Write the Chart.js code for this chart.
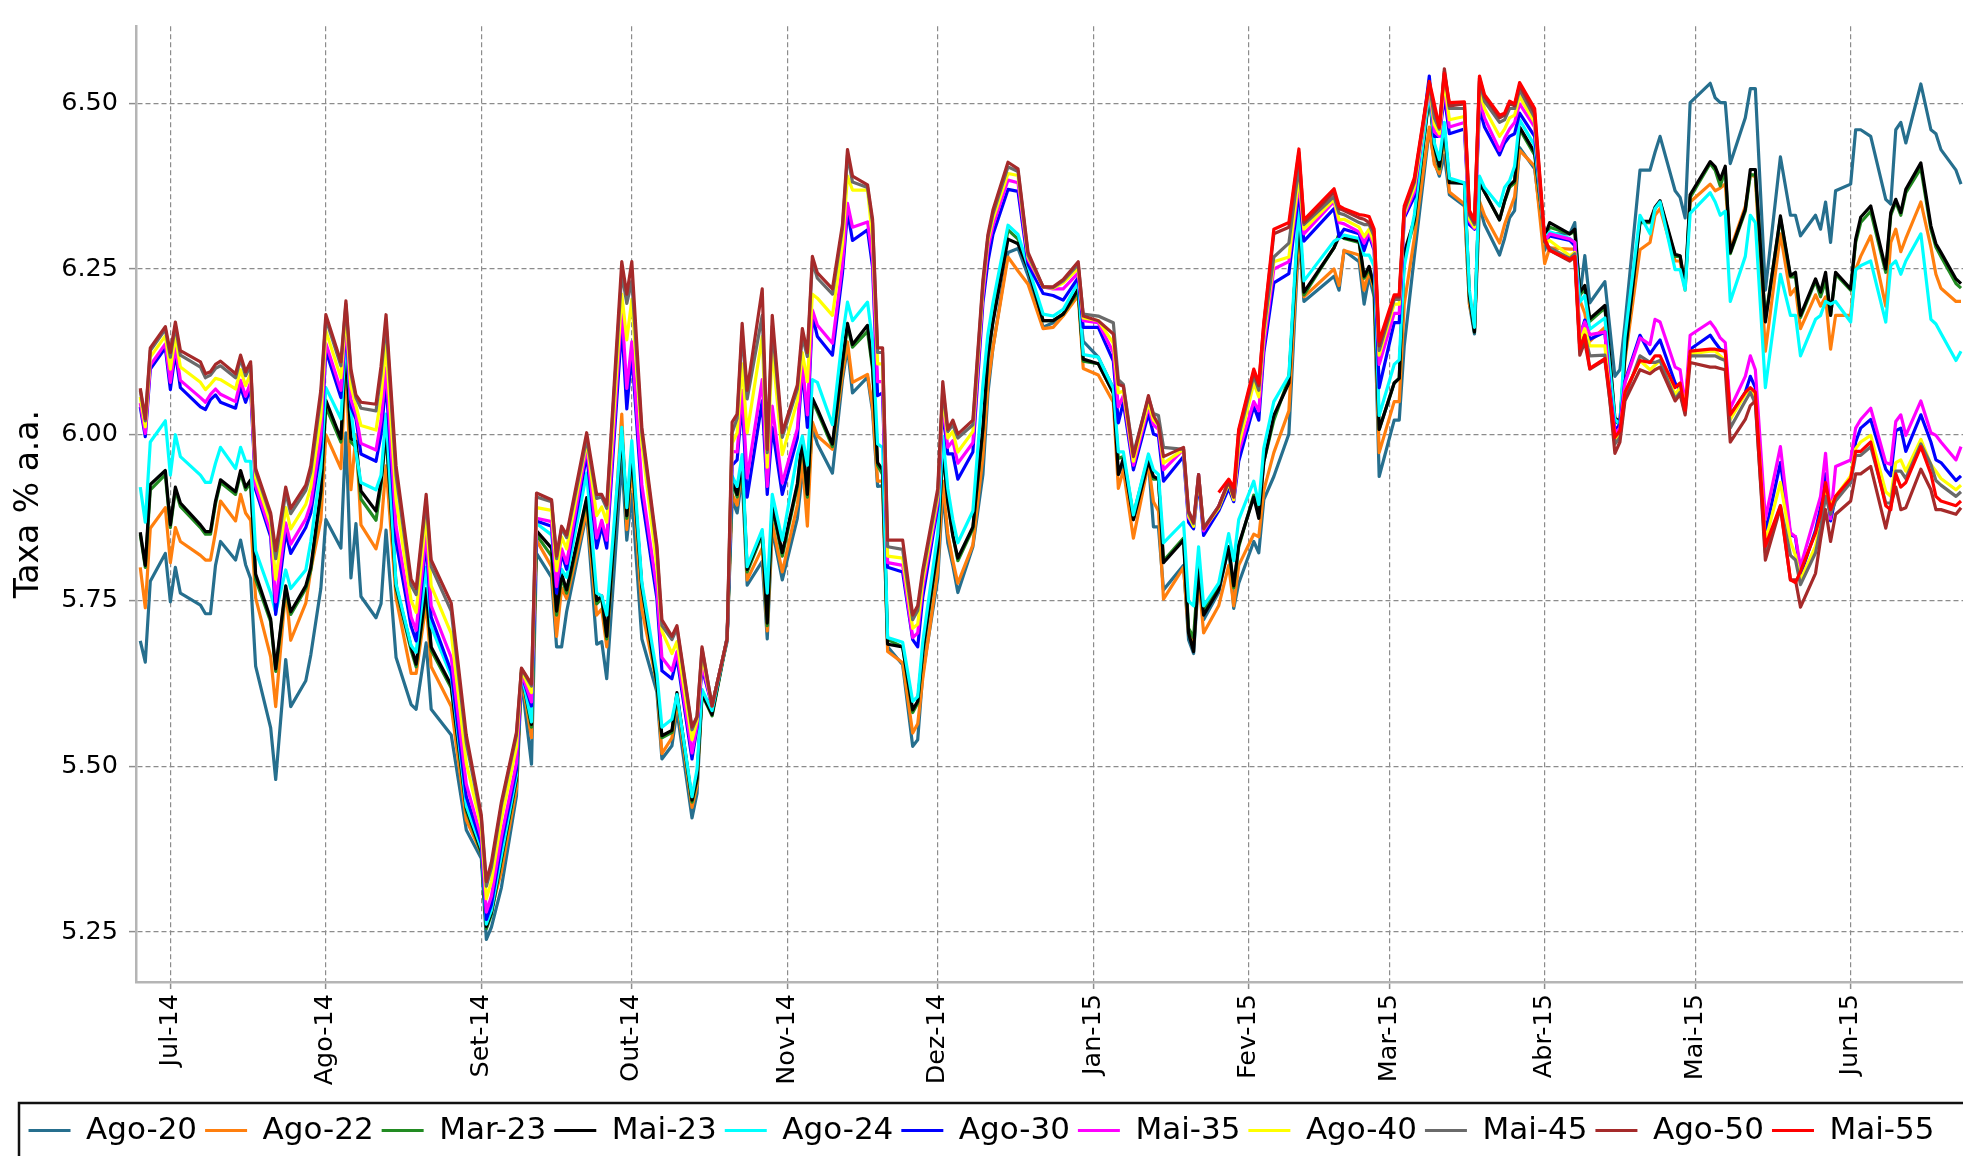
<!DOCTYPE html>
<html>
<head>
<meta charset="utf-8">
<script src="https://cdn.jsdelivr.net/npm/chart.js@4.4.1/dist/chart.umd.min.js"></script>
<style>
  html, body { margin: 0; padding: 0; background: #fff; overflow: hidden; }
  canvas { display: block; }
</style>
</head>
<body>
<canvas id="taxas" width="1963" height="1156"></canvas>
<script>
// trading days
const dates = [
  '2014-06-25','2014-06-26','2014-06-27','2014-06-30','2014-07-01','2014-07-02','2014-07-03','2014-07-07','2014-07-08','2014-07-09',
  '2014-07-10','2014-07-11','2014-07-14','2014-07-15','2014-07-16','2014-07-17','2014-07-18','2014-07-21','2014-07-22','2014-07-24',
  '2014-07-25','2014-07-28','2014-07-29','2014-07-31','2014-08-01','2014-08-04','2014-08-05','2014-08-06','2014-08-07','2014-08-08',
  '2014-08-11','2014-08-12','2014-08-13','2014-08-15','2014-08-18','2014-08-19','2014-08-21','2014-08-22','2014-08-26','2014-08-29',
  '2014-09-01','2014-09-02','2014-09-03',
  '2014-09-05','2014-09-08','2014-09-09','2014-09-11','2014-09-12','2014-09-15','2014-09-16','2014-09-17','2014-09-18','2014-09-22',
  '2014-09-24','2014-09-25','2014-09-26','2014-09-29','2014-09-30','2014-10-01','2014-10-03','2014-10-06','2014-10-07','2014-10-09',
  '2014-10-10','2014-10-13','2014-10-14','2014-10-15','2014-10-17','2014-10-20','2014-10-21','2014-10-22','2014-10-23','2014-10-24',
  '2014-10-27','2014-10-28','2014-10-29','2014-10-31','2014-11-03','2014-11-04','2014-11-05','2014-11-06','2014-11-07','2014-11-10',
  '2014-11-12','2014-11-13','2014-11-14','2014-11-17','2014-11-18','2014-11-19',
  '2014-11-20','2014-11-21','2014-11-24','2014-11-26','2014-11-27','2014-11-28','2014-12-01','2014-12-02','2014-12-03','2014-12-04',
  '2014-12-05','2014-12-08','2014-12-10','2014-12-11','2014-12-12','2014-12-15','2014-12-17','2014-12-19','2014-12-22','2014-12-24',
  '2014-12-26','2014-12-29','2014-12-30','2015-01-02','2015-01-05','2015-01-06','2015-01-07','2015-01-09','2015-01-12','2015-01-13',
  '2015-01-14','2015-01-15','2015-01-19','2015-01-20','2015-01-21','2015-01-22','2015-01-23','2015-01-26','2015-01-28','2015-01-29',
  '2015-01-30',
  '2015-02-02','2015-02-03','2015-02-04','2015-02-06','2015-02-09','2015-02-11','2015-02-12','2015-02-18','2015-02-19','2015-02-20',
  '2015-02-23','2015-02-24','2015-02-25','2015-02-26','2015-02-27','2015-03-02','2015-03-03','2015-03-04','2015-03-06','2015-03-09',
  '2015-03-10','2015-03-11','2015-03-12','2015-03-13','2015-03-16','2015-03-17','2015-03-18','2015-03-19','2015-03-20','2015-03-23',
  '2015-03-24','2015-03-25','2015-03-26','2015-03-27','2015-03-30','2015-04-01','2015-04-02','2015-04-06','2015-04-07','2015-04-08',
  '2015-04-09','2015-04-10','2015-04-13',
  '2015-04-14','2015-04-15','2015-04-16','2015-04-17','2015-04-20','2015-04-22','2015-04-23','2015-04-24','2015-04-27','2015-04-28',
  '2015-04-29','2015-04-30','2015-05-04','2015-05-05','2015-05-06','2015-05-07','2015-05-08','2015-05-11','2015-05-12','2015-05-13',
  '2015-05-15','2015-05-18','2015-05-20','2015-05-21','2015-05-22','2015-05-25','2015-05-26','2015-05-27','2015-05-28','2015-05-29',
  '2015-06-01','2015-06-02','2015-06-03','2015-06-05','2015-06-08','2015-06-09','2015-06-10','2015-06-11','2015-06-12','2015-06-15',
  '2015-06-17','2015-06-18','2015-06-19','2015-06-22','2015-06-23'
];

const ago20 = [
  5.689,5.657,5.779,5.821,5.748,5.800,5.761,5.743,5.730,5.730,5.803,5.839,5.811,5.841,5.804,5.783,5.651,5.558,5.480,5.661,5.590,5.629,5.668,5.768,5.872,5.829,6.003,5.784,5.866,5.756,5.724,5.745,5.856,5.664,5.593,5.586,5.686,5.586,5.547,5.404,5.361,5.239,5.257,
  5.317,5.455,5.632,5.503,5.821,5.785,5.680,5.680,5.733,5.882,5.684,5.688,5.632,5.962,5.841,5.910,5.692,5.612,5.511,5.531,5.584,5.422,5.459,5.608,5.592,5.688,5.902,5.882,5.938,5.773,5.809,5.692,5.857,5.781,5.874,5.942,5.906,6.011,5.986,5.942,6.083,6.132,6.063,6.087,6.035,5.922,
  5.923,5.680,5.653,5.530,5.540,5.639,5.783,5.913,5.837,5.803,5.762,5.831,5.940,6.063,6.131,6.275,6.281,6.240,6.162,6.169,6.182,6.210,6.141,6.117,6.070,5.940,5.954,5.872,5.960,5.861,5.861,5.766,5.803,5.691,5.670,5.783,5.721,5.762,5.831,5.738,5.776,
  5.839,5.822,5.902,5.937,6.001,6.303,6.201,6.239,6.218,6.278,6.261,6.197,6.239,6.208,5.937,6.022,6.022,6.134,6.268,6.461,6.412,6.390,6.422,6.362,6.345,6.197,6.152,6.345,6.317,6.271,6.296,6.327,6.338,6.433,6.401,6.278,6.303,6.303,6.320,6.208,6.270,6.199,6.231,
  6.160,6.088,6.098,6.167,6.399,6.399,6.426,6.450,6.368,6.358,6.327,6.501,6.530,6.508,6.501,6.501,6.409,6.478,6.522,6.522,6.218,6.419,6.331,6.331,6.300,6.331,6.310,6.351,6.290,6.368,6.378,6.460,6.460,6.450,6.355,6.348,6.460,6.471,6.440,6.529,6.460,6.454,6.430,6.399,6.378
];
const ago22 = [
  5.800,5.739,5.859,5.890,5.807,5.860,5.839,5.818,5.811,5.811,5.853,5.900,5.870,5.910,5.882,5.871,5.754,5.665,5.590,5.768,5.690,5.746,5.796,5.871,6.000,5.949,6.113,5.917,6.000,5.864,5.828,5.860,5.953,5.754,5.640,5.640,5.746,5.650,5.590,5.419,5.369,5.262,5.283,
  5.342,5.467,5.636,5.543,5.841,5.801,5.696,5.769,5.753,5.886,5.728,5.737,5.680,6.031,5.857,5.954,5.737,5.624,5.519,5.543,5.599,5.438,5.471,5.612,5.584,5.692,5.910,5.894,5.954,5.781,5.829,5.704,5.866,5.793,5.894,5.962,5.862,6.019,5.998,5.978,6.091,6.140,6.079,6.091,6.043,5.930,
  5.930,5.673,5.656,5.550,5.564,5.632,5.796,5.930,5.851,5.810,5.776,5.834,5.967,6.076,6.131,6.268,6.247,6.227,6.160,6.162,6.179,6.210,6.100,6.090,6.049,5.919,5.947,5.844,5.957,5.899,5.885,5.752,5.800,5.701,5.684,5.786,5.701,5.742,5.803,5.742,5.803,
  5.850,5.846,5.916,5.973,6.036,6.310,6.208,6.250,6.225,6.278,6.271,6.218,6.247,6.218,5.973,6.050,6.050,6.197,6.296,6.464,6.408,6.394,6.450,6.366,6.348,6.197,6.162,6.352,6.331,6.289,6.317,6.338,6.359,6.429,6.405,6.258,6.282,6.280,6.280,6.203,6.183,6.141,6.162,
  6.071,5.999,6.010,6.112,6.279,6.290,6.331,6.341,6.262,6.262,6.218,6.351,6.378,6.368,6.372,6.378,6.279,6.344,6.392,6.389,6.126,6.303,6.211,6.221,6.160,6.211,6.194,6.208,6.129,6.180,6.180,6.249,6.269,6.300,6.194,6.290,6.310,6.276,6.296,6.351,6.283,6.242,6.221,6.201,6.201
];
const mar23 = [
  5.850,5.800,5.917,5.940,5.860,5.917,5.892,5.860,5.850,5.850,5.896,5.928,5.910,5.942,5.917,5.928,5.782,5.718,5.643,5.768,5.729,5.768,5.796,5.910,6.042,5.989,6.131,5.989,5.981,5.903,5.871,5.924,6.003,5.768,5.675,5.650,5.764,5.675,5.618,5.433,5.369,5.255,5.276,
  5.358,5.479,5.640,5.559,5.849,5.817,5.728,5.785,5.761,5.902,5.745,5.753,5.692,6.003,5.874,5.970,5.769,5.624,5.543,5.551,5.608,5.446,5.479,5.608,5.576,5.692,5.930,5.906,5.954,5.793,5.849,5.712,5.890,5.817,5.922,5.991,5.906,6.051,6.035,5.982,6.107,6.164,6.132,6.156,6.099,5.954,
  5.940,5.691,5.680,5.581,5.595,5.670,5.827,5.981,5.899,5.848,5.810,5.858,6.008,6.114,6.172,6.309,6.295,6.251,6.172,6.172,6.182,6.216,6.111,6.107,6.063,5.964,5.967,5.879,5.967,5.933,5.933,5.810,5.844,5.708,5.694,5.800,5.735,5.769,5.831,5.769,5.831,
  5.909,5.881,5.959,6.022,6.085,6.331,6.211,6.282,6.303,6.296,6.290,6.236,6.250,6.225,6.008,6.078,6.085,6.268,6.320,6.512,6.436,6.401,6.457,6.383,6.380,6.208,6.155,6.380,6.366,6.324,6.352,6.373,6.380,6.461,6.422,6.296,6.313,6.303,6.306,6.211,6.219,6.171,6.191,
  6.112,6.020,6.016,6.119,6.320,6.320,6.341,6.351,6.269,6.269,6.221,6.358,6.409,6.399,6.375,6.399,6.273,6.337,6.392,6.392,6.174,6.327,6.238,6.238,6.177,6.232,6.208,6.232,6.180,6.242,6.218,6.290,6.320,6.337,6.245,6.331,6.351,6.331,6.365,6.402,6.310,6.283,6.269,6.228,6.221
];
const mai23 = [
  5.853,5.803,5.925,5.946,5.864,5.921,5.897,5.864,5.854,5.854,5.900,5.932,5.914,5.946,5.921,5.932,5.790,5.722,5.647,5.772,5.733,5.772,5.800,5.915,6.052,5.994,6.135,5.994,5.990,5.915,5.885,5.930,6.008,5.772,5.680,5.654,5.768,5.680,5.622,5.437,5.372,5.258,5.280,
  5.362,5.483,5.642,5.563,5.855,5.829,5.734,5.790,5.766,5.905,5.750,5.757,5.696,6.006,5.878,5.973,5.772,5.627,5.546,5.554,5.611,5.449,5.482,5.610,5.578,5.694,5.933,5.910,5.958,5.797,5.853,5.716,5.894,5.822,5.926,5.994,5.910,6.055,6.039,5.986,6.111,6.168,6.136,6.165,6.104,5.958,
  5.947,5.684,5.680,5.585,5.598,5.673,5.831,5.977,5.899,5.848,5.814,5.861,6.010,6.118,6.170,6.295,6.288,6.251,6.172,6.172,6.182,6.220,6.114,6.107,6.063,5.940,5.964,5.872,5.960,5.937,5.933,5.807,5.841,5.701,5.673,5.796,5.728,5.766,5.831,5.772,5.834,
  5.906,5.874,5.959,6.029,6.078,6.334,6.215,6.282,6.299,6.297,6.292,6.239,6.254,6.225,6.008,6.078,6.085,6.275,6.324,6.515,6.436,6.405,6.461,6.380,6.379,6.208,6.155,6.380,6.366,6.324,6.352,6.376,6.383,6.464,6.426,6.299,6.320,6.303,6.310,6.215,6.225,6.175,6.195,
  6.115,6.025,6.020,6.120,6.322,6.322,6.343,6.353,6.272,6.270,6.225,6.362,6.412,6.404,6.385,6.405,6.275,6.340,6.400,6.400,6.170,6.330,6.240,6.245,6.180,6.235,6.215,6.245,6.180,6.245,6.220,6.295,6.328,6.345,6.250,6.335,6.355,6.335,6.370,6.410,6.315,6.288,6.275,6.235,6.228
];
const ago24 = [
  5.921,5.868,5.989,6.021,5.939,6.000,5.967,5.939,5.928,5.928,5.957,5.981,5.949,5.981,5.960,5.960,5.825,5.761,5.732,5.796,5.768,5.796,5.839,5.949,6.071,6.024,6.149,6.038,5.974,5.928,5.917,5.939,6.031,5.775,5.682,5.672,5.800,5.711,5.636,5.440,5.376,5.262,5.283,
  5.366,5.487,5.641,5.567,5.866,5.849,5.777,5.797,5.785,5.942,5.761,5.757,5.728,6.011,5.890,5.991,5.777,5.640,5.559,5.571,5.608,5.454,5.495,5.616,5.584,5.692,5.938,5.922,5.970,5.801,5.857,5.761,5.910,5.841,5.970,5.998,5.954,6.083,6.079,6.015,6.148,6.200,6.172,6.200,6.140,5.986,
  5.981,5.694,5.687,5.598,5.605,5.687,5.851,5.998,5.919,5.872,5.837,5.885,6.076,6.152,6.199,6.316,6.302,6.254,6.182,6.179,6.189,6.230,6.121,6.117,6.070,5.974,5.974,5.879,5.971,5.947,5.940,5.837,5.868,5.749,5.742,5.831,5.742,5.776,5.851,5.810,5.872,
  5.930,5.895,5.980,6.050,6.089,6.348,6.232,6.292,6.296,6.301,6.296,6.271,6.271,6.254,6.029,6.106,6.113,6.254,6.331,6.520,6.440,6.415,6.471,6.387,6.380,6.218,6.162,6.390,6.373,6.345,6.373,6.383,6.405,6.475,6.436,6.296,6.306,6.296,6.290,6.200,6.210,6.159,6.176,
  6.098,6.023,6.016,6.146,6.331,6.303,6.341,6.351,6.249,6.249,6.218,6.334,6.365,6.351,6.331,6.337,6.201,6.269,6.331,6.320,6.071,6.242,6.180,6.180,6.119,6.174,6.180,6.201,6.197,6.201,6.170,6.249,6.255,6.262,6.170,6.255,6.262,6.242,6.262,6.303,6.174,6.167,6.153,6.112,6.126
];
const ago30 = [
  6.042,5.997,6.099,6.131,6.068,6.124,6.071,6.042,6.038,6.053,6.060,6.049,6.040,6.072,6.049,6.071,5.917,5.846,5.729,5.853,5.821,5.860,5.882,5.981,6.127,6.056,6.163,6.042,6.024,5.971,5.960,6.000,6.081,5.839,5.711,5.689,5.839,5.725,5.643,5.454,5.383,5.269,5.291,
  5.382,5.495,5.640,5.591,5.870,5.862,5.761,5.821,5.797,5.970,5.829,5.862,5.829,6.164,6.039,6.124,5.906,5.753,5.644,5.632,5.664,5.511,5.559,5.648,5.591,5.692,5.954,5.962,6.051,5.906,6.051,5.910,6.011,5.910,5.995,6.099,6.011,6.180,6.148,6.120,6.244,6.337,6.293,6.309,6.253,6.059,
  6.063,5.800,5.793,5.691,5.680,5.755,5.892,6.039,5.971,5.971,5.933,5.974,6.199,6.261,6.302,6.370,6.367,6.257,6.213,6.210,6.203,6.237,6.162,6.162,6.111,6.018,6.049,5.947,6.032,6.001,5.998,5.930,5.967,5.868,5.858,5.930,5.848,5.885,5.919,5.899,5.960,
  6.043,6.022,6.124,6.229,6.243,6.366,6.292,6.341,6.299,6.310,6.303,6.278,6.301,6.278,6.071,6.169,6.169,6.327,6.359,6.541,6.450,6.450,6.510,6.454,6.461,6.317,6.310,6.492,6.464,6.422,6.440,6.450,6.454,6.485,6.450,6.296,6.300,6.293,6.285,6.148,6.173,6.144,6.155,
  6.068,6.006,6.016,6.081,6.150,6.122,6.133,6.143,6.078,6.068,6.044,6.129,6.150,6.139,6.129,6.126,6.030,6.064,6.088,6.071,5.852,5.958,5.849,5.846,5.788,5.856,5.890,5.941,5.870,5.907,5.928,5.989,6.010,6.023,5.948,5.938,6.006,6.010,5.975,6.030,5.989,5.962,5.958,5.931,5.938
];
const mai35 = [
  6.048,6.002,6.105,6.137,6.079,6.133,6.082,6.056,6.049,6.061,6.069,6.061,6.050,6.082,6.058,6.079,5.923,5.853,5.748,5.867,5.835,5.873,5.896,5.998,6.138,6.067,6.171,6.053,6.031,5.987,5.977,6.021,6.101,5.862,5.725,5.705,5.853,5.742,5.664,5.473,5.392,5.280,5.304,
  5.394,5.505,5.641,5.597,5.874,5.869,5.771,5.828,5.806,5.982,5.844,5.871,5.841,6.192,6.070,6.140,5.925,5.767,5.664,5.644,5.673,5.520,5.562,5.654,5.591,5.692,5.975,5.974,6.067,5.935,6.083,5.922,6.043,5.927,6.009,6.108,6.030,6.188,6.165,6.138,6.257,6.349,6.313,6.321,6.266,6.080,
  6.080,5.807,5.803,5.694,5.701,5.769,5.899,6.049,5.981,5.991,5.957,5.988,6.210,6.281,6.315,6.384,6.380,6.264,6.223,6.220,6.220,6.244,6.172,6.169,6.124,6.042,6.059,5.954,6.042,6.015,6.008,5.947,5.978,5.875,5.864,5.940,5.855,5.892,5.930,5.902,5.974,
  6.050,6.036,6.134,6.250,6.261,6.380,6.303,6.352,6.320,6.318,6.306,6.289,6.306,6.282,6.106,6.183,6.183,6.331,6.366,6.526,6.457,6.450,6.524,6.464,6.471,6.322,6.311,6.506,6.478,6.429,6.447,6.461,6.471,6.499,6.464,6.292,6.303,6.295,6.290,6.150,6.170,6.151,6.155,
  6.064,6.003,6.010,6.078,6.146,6.136,6.174,6.170,6.102,6.098,6.044,6.150,6.170,6.160,6.146,6.139,6.040,6.088,6.119,6.098,5.873,5.982,5.852,5.846,5.801,5.880,5.907,5.972,5.873,5.952,5.962,6.010,6.023,6.040,5.958,5.955,6.020,6.030,5.999,6.051,6.003,5.999,5.989,5.962,5.982
];
const ago40 = [
  6.057,6.012,6.117,6.149,6.099,6.149,6.102,6.079,6.068,6.076,6.085,6.083,6.069,6.098,6.074,6.092,5.935,5.866,5.782,5.890,5.858,5.895,5.921,6.028,6.157,6.086,6.184,6.073,6.044,6.014,6.007,6.057,6.136,5.902,5.750,5.732,5.878,5.772,5.700,5.505,5.407,5.300,5.326,
  5.420,5.529,5.645,5.611,5.890,5.886,5.795,5.846,5.828,5.990,5.878,5.891,5.868,6.212,6.143,6.204,5.987,5.801,5.704,5.670,5.688,5.540,5.569,5.667,5.591,5.692,5.987,6.003,6.107,6.003,6.148,5.951,6.132,5.970,6.051,6.124,6.080,6.212,6.206,6.180,6.288,6.390,6.369,6.369,6.296,6.107,
  6.107,5.817,5.814,5.708,5.714,5.779,5.906,6.060,5.995,6.005,5.974,6.005,6.220,6.292,6.325,6.394,6.391,6.268,6.223,6.221,6.229,6.251,6.176,6.172,6.138,6.063,6.066,5.960,6.049,6.022,6.015,5.957,5.978,5.878,5.862,5.937,5.858,5.889,5.927,5.902,5.984,
  6.078,6.057,6.148,6.261,6.268,6.390,6.310,6.355,6.324,6.325,6.313,6.299,6.310,6.289,6.120,6.197,6.197,6.334,6.373,6.527,6.468,6.454,6.534,6.475,6.480,6.325,6.313,6.520,6.492,6.450,6.461,6.478,6.482,6.510,6.471,6.289,6.293,6.270,6.275,6.140,6.160,6.134,6.134,
  6.057,5.989,6.003,6.064,6.112,6.098,6.105,6.112,6.061,6.071,6.044,6.122,6.126,6.126,6.119,6.112,6.023,6.061,6.068,6.057,5.839,5.928,5.839,5.818,5.781,5.832,5.866,5.917,5.893,5.907,5.938,5.979,5.989,5.999,5.914,5.907,5.958,5.962,5.945,5.993,5.955,5.945,5.934,5.917,5.924
];
const mai45 = [
  6.067,6.021,6.127,6.159,6.117,6.164,6.120,6.102,6.086,6.090,6.100,6.104,6.086,6.114,6.089,6.105,5.945,5.878,5.813,5.913,5.881,5.916,5.944,6.057,6.175,6.104,6.197,6.092,6.056,6.040,6.036,6.091,6.169,5.939,5.773,5.759,5.901,5.801,5.734,5.536,5.421,5.319,5.347,
  5.441,5.547,5.647,5.621,5.906,5.899,5.813,5.859,5.845,5.994,5.904,5.906,5.889,6.244,6.198,6.232,6.003,5.827,5.712,5.691,5.708,5.555,5.574,5.677,5.591,5.692,6.003,6.025,6.156,6.054,6.180,5.973,6.164,5.996,6.069,6.148,6.118,6.261,6.236,6.212,6.311,6.422,6.381,6.373,6.319,6.124,
  6.124,5.831,5.827,5.721,5.735,5.790,5.913,6.070,6.005,6.015,5.995,6.015,6.227,6.298,6.333,6.404,6.397,6.271,6.223,6.222,6.232,6.257,6.182,6.179,6.169,6.083,6.076,5.971,6.056,6.032,6.029,5.981,5.978,5.882,5.866,5.940,5.860,5.892,5.930,5.906,5.998,
  6.089,6.067,6.158,6.268,6.289,6.405,6.317,6.359,6.334,6.332,6.320,6.317,6.317,6.299,6.127,6.204,6.204,6.338,6.380,6.529,6.478,6.461,6.548,6.492,6.492,6.331,6.317,6.533,6.503,6.471,6.475,6.492,6.492,6.520,6.478,6.290,6.282,6.266,6.273,6.130,6.150,6.119,6.120,
  6.051,5.986,5.996,6.057,6.119,6.109,6.109,6.112,6.054,6.064,6.033,6.119,6.119,6.119,6.115,6.112,6.010,6.051,6.064,6.047,5.822,5.893,5.818,5.811,5.774,5.822,5.859,5.907,5.880,5.900,5.928,5.969,5.969,5.982,5.897,5.897,5.945,5.945,5.934,5.986,5.955,5.931,5.924,5.907,5.914
];
const ago50 = [
  6.070,6.024,6.131,6.163,6.124,6.170,6.127,6.110,6.092,6.095,6.106,6.111,6.092,6.120,6.095,6.110,5.949,5.882,5.825,5.921,5.889,5.924,5.953,6.067,6.181,6.110,6.202,6.099,6.060,6.049,6.046,6.103,6.181,5.953,5.782,5.768,5.910,5.811,5.746,5.547,5.426,5.326,5.355,
  5.446,5.551,5.648,5.624,5.912,5.902,5.817,5.862,5.849,6.003,5.910,5.910,5.894,6.261,6.212,6.261,6.011,5.833,5.721,5.696,5.712,5.559,5.575,5.680,5.591,5.692,6.019,6.031,6.168,6.067,6.220,5.978,6.180,6.003,6.075,6.160,6.124,6.269,6.244,6.220,6.317,6.430,6.390,6.377,6.325,6.131,
  6.131,5.841,5.841,5.728,5.742,5.796,5.919,6.080,6.008,6.022,6.001,6.022,6.233,6.302,6.339,6.411,6.401,6.275,6.223,6.223,6.234,6.261,6.179,6.172,6.152,6.076,6.073,5.967,6.059,6.029,6.015,5.967,5.981,5.885,5.868,5.940,5.858,5.892,5.930,5.906,6.005,
  6.095,6.074,6.166,6.303,6.313,6.426,6.320,6.366,6.341,6.338,6.327,6.325,6.320,6.306,6.134,6.208,6.208,6.341,6.383,6.531,6.492,6.464,6.552,6.496,6.499,6.334,6.320,6.538,6.510,6.478,6.482,6.499,6.496,6.527,6.485,6.292,6.278,6.262,6.268,6.120,6.140,6.099,6.113,
  6.051,5.972,5.989,6.051,6.098,6.092,6.098,6.102,6.051,6.061,6.030,6.109,6.102,6.102,6.100,6.098,5.989,6.023,6.044,6.051,5.811,5.890,5.781,5.781,5.740,5.791,5.842,5.887,5.839,5.880,5.900,5.941,5.941,5.952,5.859,5.893,5.921,5.887,5.890,5.948,5.917,5.887,5.887,5.880,5.890
];
// Mai-55 only trades from this date on
const mai55Start = '2015-01-26';
const mai55 = [
  5.913,5.933,5.920,6.008,
  6.099,6.078,6.169,6.310,6.320,6.431,6.324,6.371,6.345,6.341,6.332,6.331,6.329,6.310,6.141,6.211,6.211,6.345,6.387,6.533,6.499,6.464,6.545,6.501,6.502,6.338,6.324,6.541,6.513,6.482,6.485,6.503,6.499,6.531,6.492,6.296,6.278,6.264,6.269,6.130,6.150,6.100,6.115,
  6.061,5.996,6.006,6.064,6.112,6.109,6.119,6.119,6.071,6.078,6.037,6.126,6.129,6.129,6.127,6.126,6.030,6.064,6.071,6.064,5.832,5.893,5.781,5.777,5.794,5.852,5.880,5.928,5.887,5.907,5.934,5.975,5.975,5.989,5.893,5.887,5.941,5.921,5.928,5.982,5.941,5.907,5.900,5.893,5.900
];

const seriesNames = ['Ago-20','Ago-22','Mar-23','Mai-23','Ago-24','Ago-30','Mai-35','Ago-40','Mai-45','Ago-50','Mai-55'];
const seriesValues = [ago20, ago22, mar23, mai23, ago24, ago30, mai35, ago40, mai45, ago50, mai55];
const seriesColors = ['#266f8e','#ff7f0e','#228b22','#000000','#00ffff','#0000ff','#ff00ff','#ffff00','#6a6a6a','#a52a2a','#ff0000'];

const monthTicks = ['2014-07-01','2014-08-01','2014-09-01','2014-10-01','2014-11-01','2014-12-01',
                    '2015-01-01','2015-02-01','2015-03-01','2015-04-01','2015-05-01','2015-06-01'];
const monthLabels = ['Jul-14','Ago-14','Set-14','Out-14','Nov-14','Dez-14','Jan-15','Fev-15','Mar-15','Abr-15','Mai-15','Jun-15'];
const yTicks = [5.25, 5.50, 5.75, 6.00, 6.25, 6.50];

// days since 1 Jul 2014, used as a linear x axis
const t0 = Date.UTC(2014, 6, 1);
function dayOf(s) {
  const p = s.split('-').map(Number);
  return (Date.UTC(p[0], p[1] - 1, p[2]) - t0) / 864e5;
}

const xDays = dates.map(dayOf);
const mai55Days = xDays.slice(dates.indexOf(mai55Start));
const tickDays = monthTicks.map(dayOf);

const datasets = seriesValues.map((vals, i) => {
  const xs = vals === mai55 ? mai55Days : xDays;
  return {
    label: seriesNames[i],
    data: vals.map((v, k) => ({ x: xs[k], y: v })),
    borderColor: seriesColors[i],
    backgroundColor: seriesColors[i],
    borderWidth: 3.2,
    pointRadius: 0,
    tension: 0,
    fill: false,
    borderJoinStyle: 'round',
    order: seriesNames.length - i   // later series on top, like the original
  };
});

// frame around the legend, as in the reference
const legendFrame = {
  id: 'legendFrame',
  afterDraw(chart) {
    const c = chart.ctx;
    c.save();
    c.strokeStyle = '#111';
    c.lineWidth = 2.5;
    c.strokeRect(19, chart.legend.top - 4, chart.width + 50, 200);
    c.restore();
  }
};

Chart.defaults.font.family = "'DejaVu Sans', sans-serif";
Chart.defaults.color = '#000';

new Chart(document.getElementById('taxas'), {
  type: 'line',
  data: { datasets },
  options: {
    responsive: false,
    devicePixelRatio: 1,
    animation: false,
    events: [],
    layout: { padding: { top: 13, right: 0, bottom: 0, left: 0 } },
    plugins: {
      tooltip: { enabled: false },
      legend: {
        position: 'bottom',
        labels: {
          usePointStyle: true,
          pointStyle: 'line',
          pointStyleWidth: 42,
          padding: 8,
          color: '#000',
          font: { size: 31 },
          sort: (a, b) => a.datasetIndex - b.datasetIndex
        }
      }
    },
    scales: {
      x: {
        type: 'linear',
        min: -6.85,
        max: 357.4,
        afterBuildTicks: s => { s.ticks = tickDays.map(v => ({ value: v })); },
        afterFit: s => { s.height = 125; },
        ticks: {
          autoSkip: false,
          minRotation: 90,
          maxRotation: 90,
          padding: 5,
          font: { size: 25.5 },
          callback: v => monthLabels[tickDays.indexOf(v)]
        },
        grid: { color: '#8c8c8c', lineWidth: 1.2, tickLength: 7, tickColor: '#8c8c8c', tickWidth: 1.5 },
        border: { display: true, color: '#b5b5b5', width: 2.5, dash: [5, 3] }
      },
      y: {
        min: 5.1746,
        max: 6.616,
        afterBuildTicks: s => { s.ticks = yTicks.map(v => ({ value: v })); },
        afterFit: s => { s.width = 136; },
        ticks: {
          padding: 11,
          font: { size: 25.5 },
          callback: v => v.toFixed(2)
        },
        title: {
          display: true,
          text: 'Taxa % a.a.',
          font: { size: 33 },
          padding: { top: 10, bottom: 0 }
        },
        grid: { color: '#8c8c8c', lineWidth: 1.2, tickLength: 7, tickColor: '#8c8c8c', tickWidth: 1.5 },
        border: { display: true, color: '#b5b5b5', width: 2.5, dash: [5, 3] }
      }
    }
  },
  plugins: [legendFrame]
});
</script>
</body>
</html>
